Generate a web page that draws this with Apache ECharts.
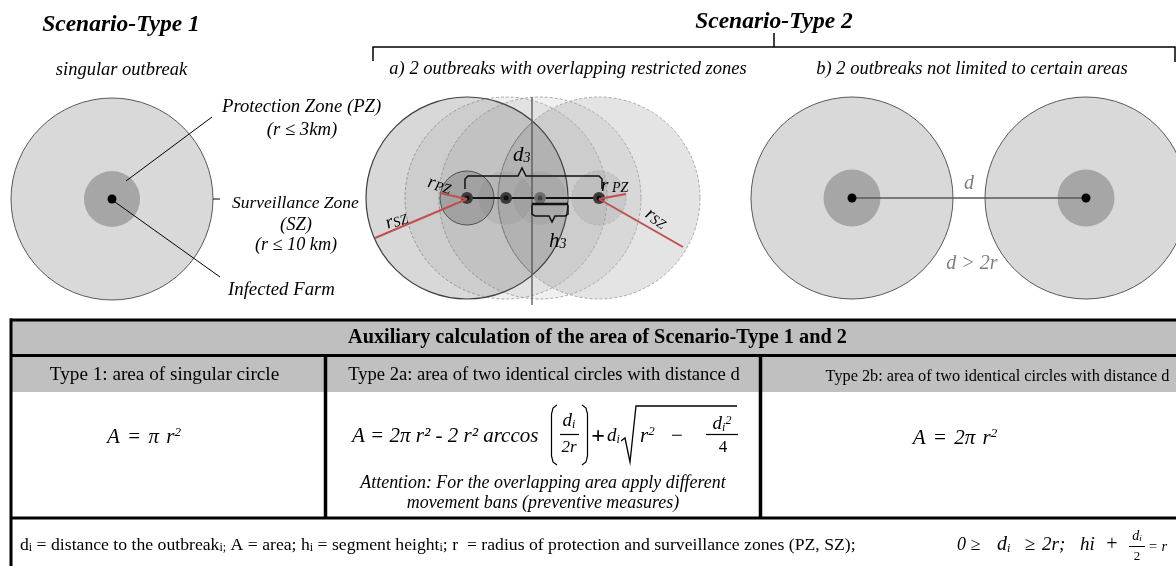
<!DOCTYPE html>
<html><head><meta charset="utf-8">
<script src="https://cdn.jsdelivr.net/npm/echarts@6/dist/echarts.min.js"></script>
<style>html,body{margin:0;padding:0;background:#fff}#c{width:1176px;height:566px}</style>
</head><body><div id="c"></div>
<script>
// ---------------- data ----------------
const scenarioTitles = ['Scenario-Type 1', 'Scenario-Type 2'];
const scenarioSubtitles = ['singular outbreak', 'a) 2 outbreaks with overlapping restricted zones', 'b) 2 outbreaks not limited to certain areas'];
const zoneLabels = ['Protection Zone (PZ)', '(r ≤ 3km)', 'Surveillance Zone', '(SZ)', '(r ≤ 10 km)', 'Infected Farm'];
// zone radii in diagram units (surveillance zone, protection zone)
const szRadius = 101;
const pzRadius = 28;
// outbreak (farm) locations in diagram units
const type1Farms = [[112, 199]];
const type2aFarms = [[467, 198], [506, 198], [540, 198], [599, 198]];
const type2bFarms = [[852, 198], [1086, 198]];
const tableTitle = 'Auxiliary calculation of the area of Scenario-Type 1 and 2';
const columnTitles = ['Type 1: area of singular circle', 'Type 2a: area of two identical circles with distance d', 'Type 2b: area of two identical circles with distance d'];
const attentionLines = ['Attention: For the overlapping area apply different', 'movement bans (preventive measures)'];
const footerText = '{b|d}{s|i}{b| = distance to the outbreak}{s|i;}{b| A = area; h}{s|i}{b| = segment height}{s|i}{b|; r  = radius of protection and surveillance zones (PZ, SZ);}';

// ---------------- rendering ----------------
const SERIF = '"Liberation Serif","Times New Roman",serif';
function fs(size, italic, bold, color) {
  return { fontSize: size, fontFamily: SERIF, fontStyle: italic ? 'italic' : 'normal', fontWeight: bold ? 'bold' : 'normal', fill: color || '#000' };
}
function subStyle(size, italic, color) { return Object.assign(fs(size, italic, false, color), { verticalAlign: 'bottom', lineHeight: 6 }); }
function supStyle(size, italic, color) { return Object.assign(fs(size, italic, false, color), { verticalAlign: 'top', lineHeight: 6 }); }
function gapStyle(size) { return Object.assign(fs(size), { lineHeight: 8 }); }

function renderDiagram(params, api) {
  const P = (x, y) => api.coord([x, y]);
  const R = (r) => api.size([r, 0])[0];
  const ch = [];
  const circle = (c, r, style) => { const p = P(c[0], c[1]); ch.push({ type: 'circle', shape: { cx: p[0], cy: p[1], r: R(r) }, style: style }); };
  const line = (pts, style) => ch.push({ type: 'polyline', shape: { points: pts.map(q => P(q[0], q[1])) }, style: Object.assign({ fill: 'none', stroke: '#000', lineWidth: 1 }, style) });
  const rect = (x0, y0, x1, y1, fill) => { const a = P(x0, y0), b = P(x1, y1); ch.push({ type: 'rect', shape: { x: a[0], y: a[1], width: b[0] - a[0], height: b[1] - a[1] }, style: { fill: fill } }); };
  const text = (x, y, str, st, opt) => {
    opt = opt || {}; const p = P(x, y);
    ch.push({ type: 'text', x: p[0], y: p[1], rotation: opt.rot || 0,
      style: Object.assign({ text: str, align: opt.align || 'center', verticalAlign: 'middle', rich: opt.rich }, st) });
  };

  // ---- titles ----
  text(121, 25, scenarioTitles[0], fs(23.5, true, true));
  text(774, 22, scenarioTitles[1], fs(23.5, true, true));
  text(121.5, 70, scenarioSubtitles[0], fs(18.5, true));
  text(568, 69, scenarioSubtitles[1], fs(18.5, true));
  text(972, 69, scenarioSubtitles[2], fs(18.5, true));
  line([[373, 61], [373, 47], [1175, 47], [1175, 62]], { lineWidth: 1.5 });
  line([[774, 47], [774, 33]], { lineWidth: 1.5 });

  // ---- Scenario type 1 ----
  type1Farms.forEach(f => {
    circle(f, szRadius, { fill: '#d9d9d9', stroke: '#595959', lineWidth: 1 });
    circle(f, pzRadius, { fill: '#a6a6a6' });
    line([[f[0] + 14, f[1] - 18], [212, 117]], { lineWidth: 1 });
    line([[f[0] + 3, f[1] + 3], [220, 277]], { lineWidth: 1 });
    line([[f[0] + szRadius, f[1]], [220, f[1]]], { lineWidth: 1 });
    circle(f, 4.5, { fill: '#000' });
  });
  text(222, 107, zoneLabels[0], fs(18.7, true), { align: 'left' });
  text(302, 130, zoneLabels[1], fs(18.7, true));
  text(232, 203, zoneLabels[2], fs(17.5, true), { align: 'left' });
  text(296, 225, zoneLabels[3], fs(18.5, true));
  text(296, 245, zoneLabels[4], fs(18.2, true));
  text(228, 290, zoneLabels[5], fs(18.8, true), { align: 'left' });

  // ---- Scenario type 2a ----
  const A = type2aFarms[0], D = type2aFarms[3];
  const dashed = { stroke: '#a8a8a8', lineWidth: 1, lineDash: [3, 2] };
  circle(D, szRadius, Object.assign({ fill: 'rgba(128,128,128,0.21)' }, dashed));
  circle(type2aFarms[2], szRadius, Object.assign({ fill: 'rgba(128,128,128,0.12)' }, dashed));
  circle(type2aFarms[1], szRadius, Object.assign({ fill: 'rgba(128,128,128,0.12)' }, dashed));
  circle(A, szRadius, { fill: 'rgba(100,100,100,0.25)', stroke: '#404040', lineWidth: 1.2 });
  (function () {
    const half = (D[0] - A[0]) / 2; const al = Math.acos(half / szRadius); const p = P(D[0], D[1]);
    ch.push({ type: 'arc', shape: { cx: p[0], cy: p[1], r: R(szRadius), startAngle: Math.PI - al, endAngle: Math.PI + al, clockwise: true }, style: { fill: 'none', stroke: '#808080', lineWidth: 1 } });
  })();
  [3, 2, 1].forEach(i => circle(type2aFarms[i], pzRadius - 1, Object.assign({ fill: 'rgba(128,128,128,0.18)' }, dashed, { stroke: '#b5b5b5' })));
  circle(A, pzRadius - 1, { fill: 'rgba(90,90,90,0.3)', stroke: '#505050', lineWidth: 1 });
  line([[532, 97], [532, 305]], { stroke: '#555', lineWidth: 1.3 });
  line([A, D], { stroke: '#111', lineWidth: 2 });
  type2aFarms.forEach((f, i) => {
    circle(f, 6, { fill: i === 2 ? '#6e6e6e' : '#3a3a3a' });
    circle(f, 2.5, { fill: i === 2 ? '#444' : '#111' });
  });
  const red = { stroke: '#c0504d', lineWidth: 2 };
  line([[A[0], A[1] + 1], [440, 193]], red);
  line([[A[0], A[1] + 1], [375, 238]], red);
  line([[D[0], D[1] + 1], [626, 194]], red);
  line([[D[0], D[1] + 1], [683, 247]], red);
  line([[465, 189], [465, 179], [468, 176], [518, 176], [522, 168], [526, 176], [599, 176], [602, 179], [602, 189]], { stroke: '#111', lineWidth: 1.5 });
  line([[532, 204], [568, 204]], { stroke: '#111', lineWidth: 2.5 });
  line([[532, 205], [532, 214], [535, 216], [549, 216], [552, 222], [555, 216], [565, 216], [568, 214], [568, 205]], { stroke: '#111', lineWidth: 1.5 });
  const rich2a = { m: fs(21, true), s: subStyle(14, true) };
  text(513, 155, '{m|d}{s|3}', {}, { align: 'left', rich: rich2a });
  text(549, 241, '{m|h}{s|3}', {}, { align: 'left', rich: rich2a });
  const richR = { m: fs(19, true), s: subStyle(14, true) };
  text(428, 182, '{m|r}{s|PZ}', {}, { align: 'left', rich: richR, rot: -0.25 });
  text(601, 186, '{m|r}{s| PZ}', {}, { align: 'left', rich: richR });
  text(386, 224, '{m|r}{s|SZ}', {}, { align: 'left', rich: richR, rot: 0.35 });
  text(647, 212, '{m|r}{s|SZ}', {}, { align: 'left', rich: richR, rot: -0.6 });

  // ---- Scenario type 2b ----
  type2bFarms.forEach(f => {
    circle(f, szRadius, { fill: '#d9d9d9', stroke: '#595959', lineWidth: 1 });
    circle(f, pzRadius + 0.5, { fill: '#a6a6a6' });
  });
  line(type2bFarms, { stroke: '#595959', lineWidth: 1.5 });
  type2bFarms.forEach(f => circle(f, 4.5, { fill: '#000' }));
  text(969, 184, 'd', fs(20, true, false, '#7f7f7f'));
  text(972, 264, 'd > 2r', fs(20, true, false, '#7f7f7f'));

  // ---- table ----
  rect(10, 320, 1190, 356, '#bfbfbf');
  rect(10, 356, 1190, 392, '#c0c0c0');
  rect(10, 392, 1190, 518, '#ffffff');
  const thick = { stroke: '#000', lineWidth: 3 };
  line([[10, 320], [1190, 320]], thick);
  line([[10, 355.5], [1190, 355.5]], thick);
  line([[10, 518], [1190, 518]], thick);
  line([[11, 318.5], [11, 580]], thick);
  line([[325.5, 355], [325.5, 518]], { stroke: '#000', lineWidth: 3.5 });
  line([[760.5, 355], [760.5, 518]], { stroke: '#000', lineWidth: 3.5 });
  text(597.5, 338, tableTitle, fs(20.3, false, true));
  text(164.5, 375, columnTitles[0], fs(19.2));
  text(544, 375, columnTitles[1], fs(18.6));
  text(997.5, 376.5, columnTitles[2], fs(16.3));

  // formulas
  const richEq = { m: fs(21, true), w: gapStyle(29), p: supStyle(13, true) };
  text(144, 437, '{m|A}{w| }{m|=}{w| }{m|π}{w| }{m|r}{p|2}', {}, { rich: richEq });
  text(955, 438, '{m|A}{w| }{m|=}{w| }{m|2π}{w| }{m|r}{p|2}', {}, { rich: richEq });
  text(352, 436, 'A = 2π r² - 2 r² arccos', fs(21, true), { align: 'left' });
  line([[557, 405], [553, 408], [551.5, 414], [551.5, 456], [553, 462], [557, 465]], { lineWidth: 1.2 });
  line([[582, 405], [586, 408], [587.5, 414], [587.5, 456], [586, 462], [582, 465]], { lineWidth: 1.2 });
  const richF = { m: fs(19, true), s: subStyle(12, true), p: supStyle(12, true) };
  text(569, 421, '{m|d}{s|i}', {}, { rich: richF });
  line([[560, 434.5], [579, 434.5]], { lineWidth: 1.2 });
  text(569, 448, '2r', fs(17, true));
  text(598, 437, '+', fs(24, false, true));
  text(607, 436, '{m|d}{s|i}', {}, { align: 'left', rich: richF });
  line([[621, 441], [625, 438], [630, 462], [636, 406], [737, 406]], { lineWidth: 1.3 });
  text(640, 436, '{m|r}{p|2}', {}, { align: 'left', rich: { m: fs(21, true), p: supStyle(13, true) } });
  text(677, 436, '−', fs(21));
  text(722, 424, '{m|d}{s|i}{p|2}', {}, { rich: richF });
  line([[706, 434.5], [738, 434.5]], { lineWidth: 1.2 });
  text(723, 448, '4', fs(17));
  text(543, 483, attentionLines[0], fs(17.9, true));
  text(543, 503, attentionLines[1], fs(17.9, true));

  // footer
  text(20, 545, footerText, {}, { align: 'left', rich: { b: fs(17.7), s: subStyle(12) } });
  text(957, 545, '0 ≥', fs(18, true), { align: 'left' });
  text(997, 545, '{m|d}{s|i}', {}, { align: 'left', rich: { m: fs(20, true), s: subStyle(12, true) } });
  text(1030, 545, '≥', fs(19, true));
  text(1042, 545, '2r;', fs(19, true), { align: 'left' });
  text(1080, 545, 'hi', fs(19, true), { align: 'left' });
  text(1112, 545, '+', fs(20));
  text(1137, 536, '{m|d}{s|i}', {}, { rich: { m: fs(14, true), s: subStyle(9, true) } });
  line([[1129, 546.5], [1145, 546.5]], { lineWidth: 1 });
  text(1137, 557, '2', fs(13));
  text(1148, 547, '= r', fs(14.5, true), { align: 'left' });

  return { type: 'group', children: ch };
}

const chart = echarts.init(document.getElementById('c'), null, { renderer: 'canvas' });
chart.setOption({
  animation: false,
  backgroundColor: '#ffffff',
  grid: { left: 0, right: 0, top: 0, bottom: 0, containLabel: false, outerBoundsMode: 'none' },
  xAxis: { type: 'value', min: 0, max: 1176, show: false },
  yAxis: { type: 'value', min: 0, max: 566, inverse: true, show: false },
  series: [{ type: 'custom', coordinateSystem: 'cartesian2d', clip: false, silent: true, data: [[0, 0]], renderItem: renderDiagram }]
});
</script></body></html>
